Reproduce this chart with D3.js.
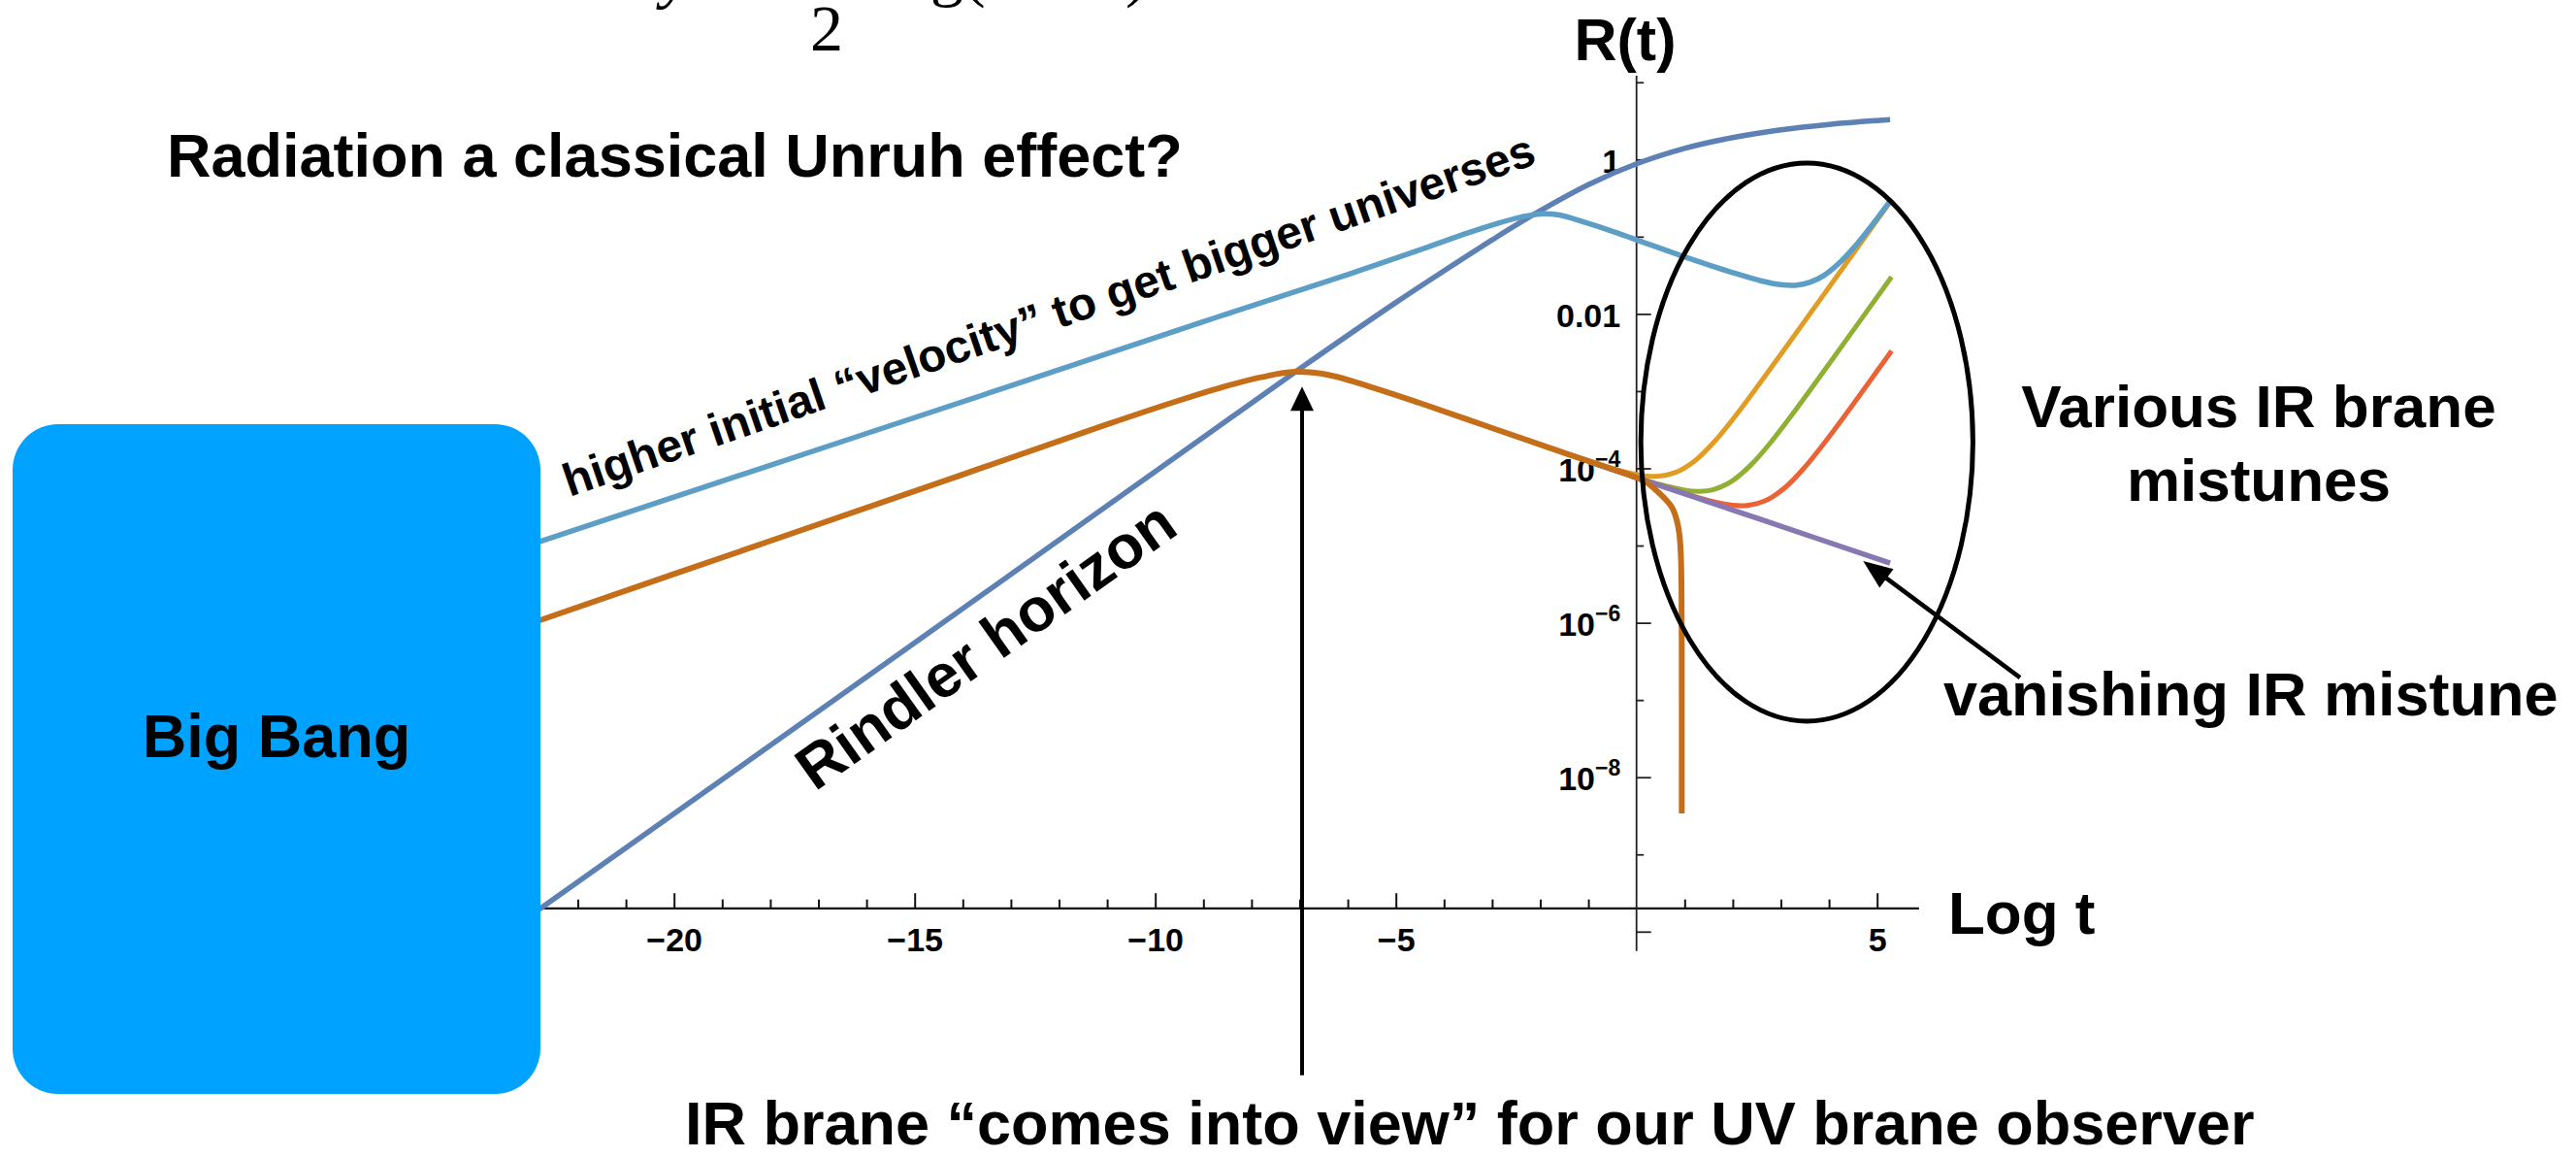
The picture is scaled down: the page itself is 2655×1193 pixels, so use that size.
<!DOCTYPE html>
<html><head><meta charset="utf-8">
<script src="https://d3js.org/d3.v7.min.js"></script>
<style>
body{margin:0;background:#fff}
svg{display:block}
text.sans{font-family:"Liberation Sans",Arial,Helvetica,sans-serif;font-weight:bold;fill:#000}
text.serif{font-family:"Liberation Serif","Times New Roman",serif;font-weight:normal;fill:#000}
</style>
</head><body>
<svg id="c" width="2655" height="1193"></svg>
<script>
// ---------- data (x = Log t, y = log10 R(t)) ----------
const xMajorTicks = [-20, -15, -10, -5, 5];
const xMinorTicks = [-22,-21,-19,-18,-17,-16,-14,-13,-12,-11,-9,-8,-7,-6,-4,-3,-2,-1,1,2,3,4];
const yMajorExps = [0, -2, -4, -6, -8, -10];
const yMinorExps = [1, -1, -3, -5, -7, -9];
const yLabelExps = [0, -2, -4, -6, -8];

const rindler = [[-22.8,-9.71],[-15,-6.26],[-10,-4.04],[-6.95,-2.69],[-5,-1.852],[-4,-1.442],[-3,-1.042],[-2.1,-0.70],[-1,-0.326],[0,-0.056],[1,0.144],[2,0.284],[3,0.384],[4,0.454],[5,0.504],[5.27,0.515]];
const lightBlue = [[-22.8,-4.95],[-18,-3.96],[-13,-2.93],[-9,-2.10],[-6,-1.49],[-4.5,-1.17],[-3.5,-0.95],[-2.9,-0.83],[-2.4,-0.745],[-2.0,-0.705],[-1.6,-0.72],[-1.1,-0.81],[-0.5,-0.93],[0,-1.04],[1,-1.26],[2,-1.465],[2.6,-1.574],[3.0,-1.622],[3.3,-1.629],[3.6,-1.592],[3.9,-1.50],[4.2,-1.349],[4.6,-1.08],[5.0,-0.764],[5.27,-0.539]];
const brown = [[-22.8,-5.97],[-18,-4.94],[-14,-4.08],[-11,-3.43],[-9.5,-3.12],[-8.5,-2.93],[-7.8,-2.82],[-7.1,-2.75],[-6.4,-2.79],[-5.4,-2.97],[-4.5,-3.155],[-3,-3.478],[-1.5,-3.80],[0,-4.12],[0.2,-4.18],[0.4,-4.28],[0.6,-4.40],[0.74,-4.51],[0.84,-4.68],[0.89,-4.85],[0.92,-5.1],[0.935,-5.56],[0.94,-6.3],[0.94,-8.47]];
const yellow = [[-1,-3.906],[-0.5,-4.003],[0,-4.08],[0.4,-4.103],[0.8,-4.056],[1.2,-3.908],[1.6,-3.666],[2.0,-3.365],[2.5,-2.951],[3,-2.522],[4,-1.655],[5.27,-0.55]];
const green = [[-1,-3.91],[0,-4.116],[0.5,-4.211],[1.0,-4.282],[1.3,-4.297],[1.6,-4.274],[2.0,-4.158],[2.4,-3.942],[2.8,-3.655],[3.3,-3.248],[4,-2.649],[5.3,-1.52]];
const red = [[-1,-3.91],[0,-4.12],[1,-4.3245],[1.5,-4.416],[2.0,-4.478],[2.3,-4.48],[2.7,-4.413],[3.1,-4.242],[3.5,-3.983],[4.0,-3.592],[4.6,-3.085],[5.3,-2.48]];
const purple = [[-1,-3.91],[0,-4.12],[2.6,-4.666],[5.27,-5.227]];

const series = [
  {name:"rindler", data:rindler, color:"#5E81B5", w:5.5},
  {name:"yellow", data:yellow, color:"#E19C24", w:5},
  {name:"green", data:green, color:"#8FB032", w:5},
  {name:"red", data:red, color:"#EB6235", w:5},
  {name:"purple", data:purple, color:"#8778B3", w:5.5},
  {name:"brown", data:brown, color:"#C56E1A", w:6},
  {name:"lightBlue", data:lightBlue, color:"#5D9EC7", w:5.5}
];

// plot range (data units)
const xRange = [-22.8, 5.87];
const yRangeExp = [1.085, -10.25];
const xAxisExp = -9.7;

// ---------- scales ----------
const svg = d3.select("#c");
const x = d3.scaleLinear().domain([-20, 5]).range([694.7, 1934.7]);
const y = d3.scaleLog().domain([1, 1e-8]).range([164.3, 800.7]);
const Y = e => y(Math.pow(10, e));

const line = d3.line().x(d => x(d[0])).y(d => Y(d[1])).curve(d3.curveCatmullRom.alpha(0.5));

// ---------- axes ----------
const axisY = Y(xAxisExp);
const x0 = x(0);
const gAx = svg.append("g");
gAx.append("line").attr("x1", x(xRange[0])).attr("x2", x(xRange[1])).attr("y1", axisY).attr("y2", axisY)
  .attr("stroke", "#111").attr("stroke-width", 2.2);
gAx.append("line").attr("x1", x0).attr("x2", x0).attr("y1", Y(yRangeExp[0])).attr("y2", Y(yRangeExp[1]))
  .attr("stroke", "#222").attr("stroke-width", 1.8);

const xAxisMajor = d3.axisBottom(x).tickValues(xMajorTicks).tickSizeInner(-15.7).tickSizeOuter(0).tickPadding(20);
const gx = svg.append("g").attr("transform", `translate(0,${axisY})`).call(xAxisMajor);
const xAxisMinor = d3.axisBottom(x).tickValues(xMinorTicks).tickSizeInner(-9.3).tickSizeOuter(0).tickFormat("");
const gx2 = svg.append("g").attr("transform", `translate(0,${axisY})`).call(xAxisMinor);
[gx, gx2].forEach(g => { g.select(".domain").remove(); g.selectAll(".tick line").attr("stroke", "#111").attr("stroke-width", 2); });
gx.selectAll(".tick text").attr("class", "sans").attr("font-size", 34).attr("fill", "#000");

const yAxisMajor = d3.axisLeft(y).tickValues(yMajorExps.map(e => Math.pow(10, e))).tickSizeInner(-15).tickSizeOuter(0).tickFormat("");
const gy = svg.append("g").attr("transform", `translate(${x0},0)`).call(yAxisMajor);
const yAxisMinor = d3.axisLeft(y).tickValues(yMinorExps.map(e => Math.pow(10, e))).tickSizeInner(-7.5).tickSizeOuter(0).tickFormat("");
const gy2 = svg.append("g").attr("transform", `translate(${x0},0)`).call(yAxisMinor);
[gy, gy2].forEach(g => { g.select(".domain").remove(); g.selectAll(".tick line").attr("stroke", "#222").attr("stroke-width", 1.8); });

const gyl = svg.append("g");
yLabelExps.forEach(e => {
  const t = gyl.append("text").attr("class", "sans").attr("x", x0 - 16.5).attr("y", Y(e) + 13.5).attr("text-anchor", "end").attr("font-size", 34);
  if (e === 0) t.text("1");
  else if (e === -2) t.text("0.01");
  else {
    t.append("tspan").text("10");
    t.append("tspan").attr("dy", -15).attr("font-size", 23).text("\u2212" + (-e));
  }
});

// ---------- curves ----------
svg.append("g").selectAll("path").data(series).join("path")
  .attr("d", s => line(s.data)).attr("fill", "none")
  .attr("stroke", s => s.color).attr("stroke-width", s => s.w)
  .attr("stroke-linejoin", "round").attr("stroke-linecap", "butt");

// ---------- annotations ----------
const ell = {cx: 3.54, cyExp: -3.66, rx: 3.45, ryExp: 3.614};
svg.append("ellipse").attr("cx", x(ell.cx)).attr("cy", Y(ell.cyExp))
  .attr("rx", x(ell.cx + ell.rx) - x(ell.cx)).attr("ry", Y(ell.cyExp - ell.ryExp) - Y(ell.cyExp))
  .attr("fill", "none").attr("stroke", "#000").attr("stroke-width", 5);

function arrow(x1, y1, x2, y2, w, hl, hw) {
  const dx = x2 - x1, dy = y2 - y1, L = Math.hypot(dx, dy), ux = dx / L, uy = dy / L;
  const bx = x2 - ux * hl, by = y2 - uy * hl;
  svg.append("line").attr("x1", x1).attr("y1", y1).attr("x2", bx + ux * 2).attr("y2", by + uy * 2)
    .attr("stroke", "#000").attr("stroke-width", w);
  svg.append("path").attr("d", `M${x2},${y2}L${bx - uy * hw},${by + ux * hw}L${bx + uy * hw},${by - ux * hw}Z`).attr("fill", "#000");
}
const vArrow = {t: -6.95, fromExp: -11.86, toExp: -2.94};
arrow(x(vArrow.t), Y(vArrow.fromExp), x(vArrow.t), Y(vArrow.toExp), 4, 25, 12);
const dArrow = {t1: 7.97, e1: -6.71, t2: 4.71, e2: -5.20};
arrow(x(dArrow.t1), Y(dArrow.e1), x(dArrow.t2), Y(dArrow.e2), 4.5, 30, 12);

// ---------- Big Bang box ----------
svg.append("rect").attr("x", 13).attr("y", 437).attr("width", 544).attr("height", 690).attr("rx", 47).attr("ry", 47).attr("fill", "#00A2FF");
svg.append("text").attr("class", "sans").attr("x", 285).attr("y", 780).attr("text-anchor", "middle").attr("font-size", 63).text("Big Bang");

// ---------- text ----------
const txt = (xx, yy, size, s, anchor) => svg.append("text").attr("class", "sans").attr("x", xx).attr("y", yy)
  .attr("font-size", size).attr("text-anchor", anchor || "start").text(s);
txt(172, 182, 63, "Radiation a classical Unruh effect?");
txt(1675, 62, 61, "R(t)", "middle");
txt(2008, 962, 62, "Log t");
txt(2328, 440, 62, "Various IR brane", "middle");
txt(2328, 516, 62, "mistunes", "middle");
txt(2003, 737, 63, "vanishing IR mistune");
txt(706, 1179, 63, "IR brane \u201ccomes into view\u201d for our UV brane observer");
svg.append("text").attr("class", "sans").attr("transform", "translate(587,512) rotate(-19)").attr("font-size", 47.5)
  .text("higher initial \u201cvelocity\u201d to get bigger universes");
svg.append("text").attr("class", "sans").attr("transform", "translate(840,816) rotate(-35.4)").attr("font-size", 63)
  .text("Rindler horizon");

// formula fragments cut off at the top edge (as in the reference)
svg.append("text").attr("class", "serif").attr("x", 835).attr("y", 52).attr("font-size", 68).text("2");
svg.append("text").attr("class", "serif").attr("x", 682).attr("y", -4).attr("font-size", 68).attr("font-style", "italic").text("y");
svg.append("text").attr("class", "serif").attr("x", 906).attr("y", -6).attr("font-size", 68).text("log(");
svg.append("text").attr("class", "serif").attr("x", 1160).attr("y", -6).attr("font-size", 68).text(")");
</script>
</body></html>
